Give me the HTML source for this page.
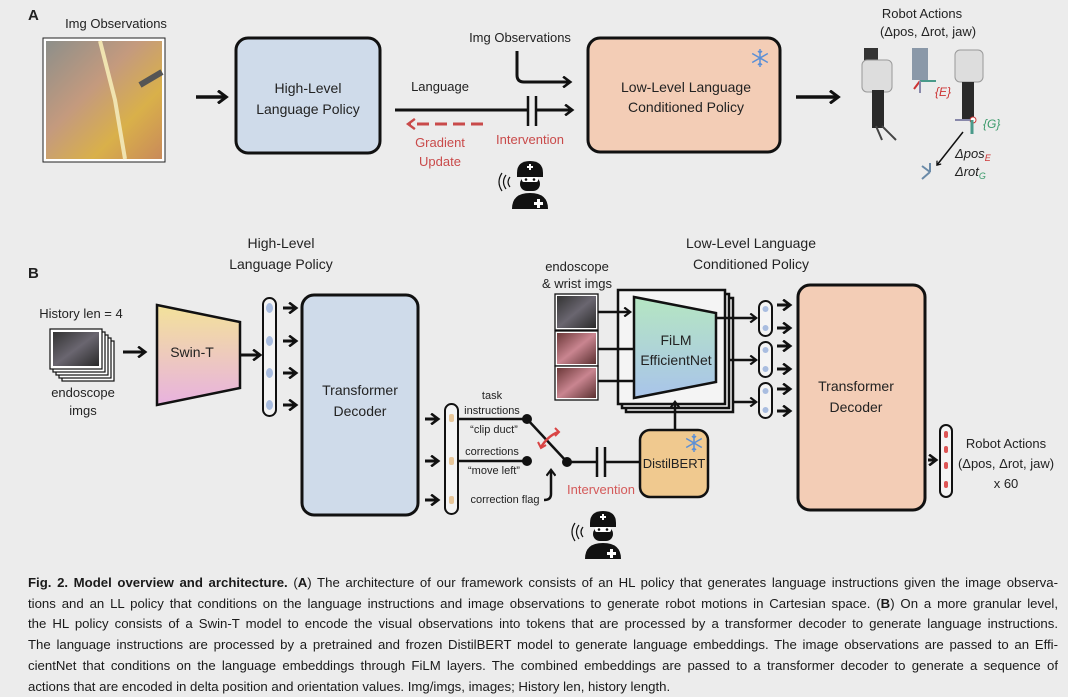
<!DOCTYPE html>
<html><head><meta charset="utf-8"><style>
body{margin:0;width:1068px;height:694px;background:#ececec;overflow:hidden;font-family:"Liberation Sans",sans-serif}
svg{position:absolute;left:0;top:0}
svg text{font-family:"Liberation Sans",sans-serif;font-size:13px;fill:#222}
.cap{position:absolute;left:28px;width:1030px;top:573px;font-size:13.2px;line-height:20.7px;color:#1a1a1a}
.cap div{text-align:justify;text-align-last:justify;white-space:nowrap;overflow:hidden}
.cap div.l{text-align-last:left}
</style></head><body>
<svg width="1068" height="694" viewBox="0 0 1068 694">
<defs>
<marker id="ah" markerWidth="4" markerHeight="4" refX="2.6" refY="2" orient="auto" markerUnits="strokeWidth"><path d="M0.3,0.2 L2.7,2 L0.3,3.8" fill="none" stroke="#111" stroke-width="0.85"/></marker>
<marker id="ahr" markerWidth="4" markerHeight="4" refX="2.6" refY="2" orient="auto" markerUnits="strokeWidth"><path d="M0.3,0.3 L2.6,2 L0.3,3.7" fill="none" stroke="#c94a4a" stroke-width="0.8"/></marker>
<linearGradient id="swin" x1="0" y1="0" x2="0" y2="1"><stop offset="0" stop-color="#f3e29a"/><stop offset="1" stop-color="#e8b2df"/></linearGradient>
<linearGradient id="film" x1="0" y1="0" x2="0" y2="1"><stop offset="0" stop-color="#b5e6c2"/><stop offset="1" stop-color="#a9c4ea"/></linearGradient>
<linearGradient id="img" x1="0" y1="0" x2="1" y2="1"><stop offset="0" stop-color="#8d8f8a"/><stop offset="0.4" stop-color="#c49a7e"/><stop offset="0.7" stop-color="#d9b04a"/><stop offset="1" stop-color="#c98a5a"/></linearGradient>
<linearGradient id="endo" x1="0" y1="0" x2="1" y2="1"><stop offset="0" stop-color="#333"/><stop offset="0.5" stop-color="#6a6670"/><stop offset="1" stop-color="#2a2a2a"/></linearGradient>
<linearGradient id="endo2" x1="0" y1="0" x2="1" y2="1"><stop offset="0" stop-color="#6b3838"/><stop offset="0.5" stop-color="#c98590"/><stop offset="1" stop-color="#5a3030"/></linearGradient>
<g id="doc">
<path d="M-13,-10 Q-13,-22 0,-22 Q13,-22 13,-10 L13,-6 L-13,-6 Z" fill="#111"/>
<rect x="-10" y="-6" width="20" height="14" rx="7" fill="#111"/>
<rect x="-8" y="-6" width="16" height="5" rx="2" fill="#fff"/>
<circle cx="-4" cy="-3.5" r="1.3" fill="#111"/><circle cx="4" cy="-3.5" r="1.3" fill="#111"/>
<path d="M-18,26 Q-18,10 0,10 Q18,10 18,26 Z" fill="#111"/>
<path d="M-1,-19 h2 v2 h2 v2 h-2 v2 h-2 v-2 h-2 v-2 h2z" fill="#fff"/>
<path d="M7,16 h3 v3 h3 v3 h-3 v3 h-3 v-3 h-3 v-3 h3z" fill="#fff"/>
<path d="M-20,-6 q-4,5 0,10 M-24,-8 q-5,7 0,14 M-28,-10 q-6,9 0,18" fill="none" stroke="#111" stroke-width="1.2"/>
</g>
<g id="snow" stroke="#5b8fd6" stroke-width="1.5" fill="none">
<path d="M0,-9 V9 M-7.8,-4.5 L7.8,4.5 M-7.8,4.5 L7.8,-4.5 M-2,-7 L0,-5 L2,-7 M-2,7 L0,5 L2,7"/>
</g>
</defs>

<!-- Panel A -->
<text x="28" y="20" style="font-weight:bold;font-size:15px">A</text>
<text x="116" y="28" text-anchor="middle">Img Observations</text>
<rect x="43" y="38" width="122" height="124" fill="#fff" stroke="#222" stroke-width="1"/>
<rect x="46" y="41" width="116" height="118" fill="url(#img)"/>
<path d="M100,41 L115,100 L125,159" stroke="#f0e3b0" stroke-width="4" fill="none"/>
<path d="M140,85 L162,72" stroke="#555" stroke-width="6"/>
<line x1="196" y1="97" x2="226" y2="97" stroke="#111" stroke-width="3.5" marker-end="url(#ah)"/>
<rect x="236" y="38" width="144" height="115" rx="12" fill="#cfdbea" stroke="#111" stroke-width="3"/>
<text x="308" y="93" text-anchor="middle" style="font-size:14px">High-Level</text>
<text x="308" y="114" text-anchor="middle" style="font-size:14px">Language Policy</text>
<text x="440" y="91" text-anchor="middle">Language</text>
<line x1="395" y1="110" x2="572" y2="110" stroke="#111" stroke-width="3" marker-end="url(#ah)"/>
<rect x="527" y="96" width="10" height="30" fill="#ececec"/>
<line x1="528" y1="96" x2="528" y2="126" stroke="#111" stroke-width="2.5"/>
<line x1="536" y1="96" x2="536" y2="126" stroke="#111" stroke-width="2.5"/>
<line x1="483" y1="124" x2="408" y2="124" stroke="#c94a4a" stroke-width="3" stroke-dasharray="12,6" marker-end="url(#ahr)"/>
<text x="440" y="147" text-anchor="middle" style="fill:#c94a4a">Gradient</text>
<text x="440" y="166" text-anchor="middle" style="fill:#c94a4a">Update</text>
<text x="520" y="42" text-anchor="middle">Img Observations</text>
<path d="M517,51 V75 Q517,82 524,82 H570" fill="none" stroke="#111" stroke-width="3" marker-end="url(#ah)"/>
<text x="530" y="144" text-anchor="middle" style="fill:#c94a4a">Intervention</text>
<use href="#doc" x="530" y="183"/>
<rect x="588" y="38" width="192" height="114" rx="12" fill="#f3cdb6" stroke="#111" stroke-width="3"/>
<use href="#snow" x="760" y="58"/>
<text x="686" y="92" text-anchor="middle" style="font-size:14px">Low-Level Language</text>
<text x="686" y="112" text-anchor="middle" style="font-size:14px">Conditioned  Policy</text>
<line x1="796" y1="97" x2="838" y2="97" stroke="#111" stroke-width="3.5" marker-end="url(#ah)"/>
<text x="922" y="18" text-anchor="middle">Robot Actions</text>
<text x="928" y="36" text-anchor="middle">(Δpos, Δrot, jaw)</text>
<!-- robots -->
<rect x="864" y="48" width="14" height="22" fill="#333"/>
<rect x="862" y="60" width="30" height="32" rx="5" fill="#ddd" stroke="#999"/>
<rect x="872" y="90" width="12" height="38" fill="#2a2a2a"/>
<path d="M876,126 L882,140 M882,126 L896,140" stroke="#444" stroke-width="2"/>
<rect x="912" y="48" width="16" height="32" fill="#8a98a8"/>
<path d="M920,81 h16" stroke="#4a9a8a" stroke-width="2"/><path d="M920,81 l-6,8" stroke="#c33" stroke-width="2"/><path d="M920,81 v12" stroke="#88a" stroke-width="2"/>
<text x="935" y="96" style="fill:#c33;font-size:12px;font-style:italic">{E}</text>
<rect x="955" y="50" width="28" height="32" rx="5" fill="#ddd" stroke="#999"/>
<rect x="962" y="82" width="12" height="38" fill="#2a2a2a"/>
<circle cx="973" cy="120" r="3" fill="#fff" stroke="#c33"/>
<path d="M970,120 h-15" stroke="#88a" stroke-width="2"/><path d="M972,120 v14" stroke="#4a9a8a" stroke-width="3"/>
<text x="983" y="128" style="fill:#3a9a6a;font-size:12px;font-style:italic">{G}</text>
<line x1="963" y1="132" x2="937" y2="165" stroke="#111" stroke-width="1.5" marker-end="url(#ah)"/>
<text x="955" y="158" style="font-style:italic">Δpos<tspan style="fill:#c33;font-size:9px" dy="3">E</tspan></text>
<text x="955" y="176" style="font-style:italic">Δrot<tspan style="fill:#3a9a6a;font-size:9px" dy="3">G</tspan></text>
<path d="M930,172 l-8,-6 M930,172 v-9 M930,172 l-8,7" stroke="#6a8aa8" stroke-width="2"/>

<!-- Panel B -->
<text x="28" y="278" style="font-weight:bold;font-size:15px">B</text>
<text x="281" y="248" text-anchor="middle" style="font-size:14px">High-Level</text>
<text x="281" y="269" text-anchor="middle" style="font-size:14px">Language Policy</text>
<text x="751" y="248" text-anchor="middle" style="font-size:14px">Low-Level Language</text>
<text x="751" y="269" text-anchor="middle" style="font-size:14px">Conditioned Policy</text>
<text x="81" y="318" text-anchor="middle">History len = 4</text>
<g stroke="#111" stroke-width="1.2">
<rect x="62" y="341" width="52" height="40" fill="#fff"/>
<rect x="59" y="338" width="52" height="40" fill="#fff"/>
<rect x="56" y="335" width="52" height="40" fill="#fff"/>
<rect x="53" y="332" width="52" height="40" fill="#fff"/>
<rect x="50" y="329" width="52" height="40" fill="#fff"/>
</g>
<rect x="53" y="332" width="46" height="34" fill="url(#endo)"/>
<text x="83" y="397" text-anchor="middle">endoscope</text>
<text x="83" y="415" text-anchor="middle">imgs</text>
<line x1="123" y1="352" x2="145" y2="352" stroke="#111" stroke-width="3" marker-end="url(#ah)"/>
<path d="M157,305 L240,322 L240,388 L157,405 Z" fill="url(#swin)" stroke="#111" stroke-width="2.5"/>
<text x="192" y="357" text-anchor="middle" style="font-size:14px">Swin-T</text>
<line x1="240" y1="355" x2="260" y2="355" stroke="#111" stroke-width="3" marker-end="url(#ah)"/>
<rect x="263" y="298" width="13" height="118" rx="6.5" fill="#f4f4f4" stroke="#111" stroke-width="2"/>
<g fill="#a9bde0"><ellipse cx="269.5" cy="308" rx="3.5" ry="5"/><ellipse cx="269.5" cy="341" rx="3.5" ry="5"/><ellipse cx="269.5" cy="373" rx="3.5" ry="5"/><ellipse cx="269.5" cy="405" rx="3.5" ry="5"/></g>
<g stroke="#111" stroke-width="3"><line x1="283" y1="308" x2="296" y2="308" marker-end="url(#ah)"/><line x1="283" y1="341" x2="296" y2="341" marker-end="url(#ah)"/><line x1="283" y1="373" x2="296" y2="373" marker-end="url(#ah)"/><line x1="283" y1="405" x2="296" y2="405" marker-end="url(#ah)"/></g>
<rect x="302" y="295" width="116" height="220" rx="12" fill="#cfdbea" stroke="#111" stroke-width="3"/>
<text x="360" y="395" text-anchor="middle" style="font-size:14px">Transformer</text>
<text x="360" y="416" text-anchor="middle" style="font-size:14px">Decoder</text>
<g stroke="#111" stroke-width="3"><line x1="425" y1="419" x2="438" y2="419" marker-end="url(#ah)"/><line x1="425" y1="461" x2="438" y2="461" marker-end="url(#ah)"/><line x1="425" y1="500" x2="438" y2="500" marker-end="url(#ah)"/></g>
<rect x="445" y="404" width="13" height="110" rx="6.5" fill="#f4f4f4" stroke="#111" stroke-width="2"/>
<g fill="#e8c79a"><rect x="449" y="414" width="5" height="8" rx="2"/><rect x="449" y="457" width="5" height="8" rx="2"/><rect x="449" y="496" width="5" height="8" rx="2"/></g>
<text x="492" y="399" text-anchor="middle" style="font-size:11px">task</text>
<text x="492" y="414" text-anchor="middle" style="font-size:11px">instructions</text>
<text x="494" y="433" text-anchor="middle" style="font-size:11px">“clip duct”</text>
<text x="492" y="455" text-anchor="middle" style="font-size:11px">corrections</text>
<text x="494" y="474" text-anchor="middle" style="font-size:11px">“move left”</text>
<text x="505" y="503" text-anchor="middle" style="font-size:11px">correction flag</text>
<g stroke="#111" stroke-width="2.5"><line x1="458" y1="419" x2="527" y2="419"/><line x1="458" y1="461" x2="527" y2="461"/><line x1="527" y1="419" x2="567" y2="462"/><line x1="567" y1="462" x2="640" y2="462"/></g>
<circle cx="527" cy="419" r="5" fill="#111"/><circle cx="527" cy="461" r="5" fill="#111"/><circle cx="567" cy="462" r="5" fill="#111"/>
<rect x="597" y="447" width="8" height="30" fill="#ececec"/>
<line x1="597" y1="447" x2="597" y2="477" stroke="#111" stroke-width="2.5"/><line x1="605" y1="447" x2="605" y2="477" stroke="#111" stroke-width="2.5"/>
<path d="M541,447 Q548,436 558,432" fill="none" stroke="#d94444" stroke-width="2.5"/>
<path d="M538,442 l3,6 l5,-3 M555,428 l4,4 l-4,4" fill="none" stroke="#d94444" stroke-width="2"/>
<path d="M544,500 Q551,500 551,494 V470" fill="none" stroke="#111" stroke-width="2.5" marker-end="url(#ah)"/>
<text x="601" y="494" text-anchor="middle" style="fill:#d45a5a">Intervention</text>
<use href="#doc" x="603" y="533"/>
<rect x="640" y="430" width="68" height="67" rx="10" fill="#f0c98f" stroke="#111" stroke-width="2.5"/>
<use href="#snow" x="694" y="443"/>
<text x="674" y="468" text-anchor="middle">DistilBERT</text>
<text x="577" y="271" text-anchor="middle">endoscope</text>
<text x="577" y="288" text-anchor="middle">&amp; wrist imgs</text>
<g stroke="#111" stroke-width="1.3" fill="#fff">
<rect x="555" y="294" width="43" height="36"/><rect x="555" y="331" width="43" height="35"/><rect x="555" y="366" width="43" height="34"/>
</g>
<rect x="557" y="296" width="39" height="32" fill="url(#endo)"/>
<rect x="557" y="333" width="39" height="31" fill="url(#endo2)"/>
<rect x="557" y="368" width="39" height="30" fill="url(#endo2)"/>
<g stroke="#111" stroke-width="2.5" fill="#f4f4f4">
<rect x="626" y="298" width="107" height="114"/>
<rect x="622" y="294" width="107" height="114"/>
<rect x="618" y="290" width="107" height="114"/>
</g>
<line x1="598" y1="312" x2="630" y2="312" stroke="#111" stroke-width="2.5" marker-end="url(#ah)"/>
<line x1="598" y1="349" x2="633" y2="349" stroke="#111" stroke-width="2.5"/>
<line x1="598" y1="381" x2="633" y2="381" stroke="#111" stroke-width="2.5"/>
<path d="M634,297 L716,313 L716,382 L634,398 Z" fill="url(#film)" stroke="#111" stroke-width="2.5"/>
<text x="676" y="345" text-anchor="middle" style="font-size:14px">FiLM</text>
<text x="676" y="365" text-anchor="middle" style="font-size:14px">EfficientNet</text>
<line x1="675" y1="430" x2="675" y2="402" stroke="#111" stroke-width="2.5" marker-end="url(#ah)"/>
<g stroke="#111" stroke-width="2.5"><line x1="716" y1="318" x2="756" y2="318" marker-end="url(#ah)"/><line x1="729" y1="360" x2="756" y2="360" marker-end="url(#ah)"/><line x1="733" y1="402" x2="756" y2="402" marker-end="url(#ah)"/></g>
<g stroke="#111" stroke-width="2" fill="#f4f4f4"><rect x="759" y="301" width="13" height="35" rx="6.5"/><rect x="759" y="342" width="13" height="35" rx="6.5"/><rect x="759" y="383" width="13" height="35" rx="6.5"/></g>
<g fill="#a9bde0"><circle cx="765.5" cy="309" r="3"/><circle cx="765.5" cy="328" r="3"/><circle cx="765.5" cy="350" r="3"/><circle cx="765.5" cy="369" r="3"/><circle cx="765.5" cy="391" r="3"/><circle cx="765.5" cy="410" r="3"/></g>
<g stroke="#111" stroke-width="3"><line x1="777" y1="305" x2="790" y2="305" marker-end="url(#ah)"/><line x1="777" y1="328" x2="790" y2="328" marker-end="url(#ah)"/><line x1="777" y1="346" x2="790" y2="346" marker-end="url(#ah)"/><line x1="777" y1="369" x2="790" y2="369" marker-end="url(#ah)"/><line x1="777" y1="389" x2="790" y2="389" marker-end="url(#ah)"/><line x1="777" y1="411" x2="790" y2="411" marker-end="url(#ah)"/></g>
<rect x="798" y="285" width="127" height="225" rx="12" fill="#f3cdb6" stroke="#111" stroke-width="3"/>
<text x="856" y="391" text-anchor="middle" style="font-size:14px">Transformer</text>
<text x="856" y="412" text-anchor="middle" style="font-size:14px">Decoder</text>
<line x1="928" y1="460" x2="936" y2="460" stroke="#111" stroke-width="3" marker-end="url(#ah)"/>
<rect x="940" y="425" width="12" height="72" rx="6" fill="#f4f4f4" stroke="#111" stroke-width="2"/>
<g fill="#d55"><rect x="944" y="431" width="4" height="7" rx="2"/><rect x="944" y="446" width="4" height="7" rx="2"/><rect x="944" y="462" width="4" height="7" rx="2"/><rect x="944" y="481" width="4" height="7" rx="2"/></g>
<text x="1006" y="448" text-anchor="middle">Robot Actions</text>
<text x="1006" y="468" text-anchor="middle">(Δpos, Δrot, jaw)</text>
<text x="1006" y="488" text-anchor="middle">x 60</text>
</svg>
<div class="cap">
<div><b>Fig. 2. Model overview and architecture.</b> (<b>A</b>) The architecture of our framework consists of an HL policy that generates language instructions given the image observa-</div>
<div>tions and an LL policy that conditions on the language instructions and image observations to generate robot motions in Cartesian space. (<b>B</b>) On a more granular level,</div>
<div>the HL policy consists of a Swin-T model to encode the visual observations into tokens that are processed by a transformer decoder to generate language instructions.</div>
<div>The language instructions are processed by a pretrained and frozen DistilBERT model to generate language embeddings. The image observations are passed to an Effi-</div>
<div>cientNet that conditions on the language embeddings through FiLM layers. The combined embeddings are passed to a transformer decoder to generate a sequence of</div>
<div class="l">actions that are encoded in delta position and orientation values. Img/imgs, images; History len, history length.</div>
</div>
</body></html>
